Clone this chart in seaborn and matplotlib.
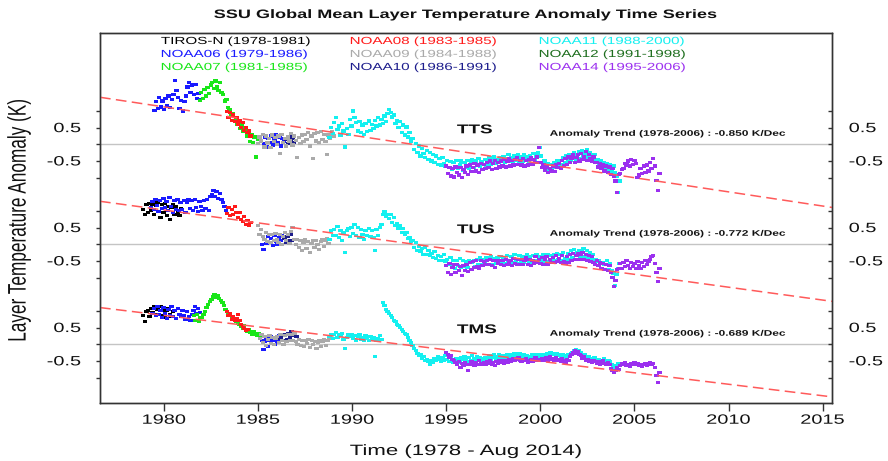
import numpy as np
import pandas as pd
import matplotlib
matplotlib.use("Agg")
import matplotlib.pyplot as plt
import seaborn as sns
from matplotlib.patheffects import AbstractPathEffect
from matplotlib.transforms import Affine2D
from matplotlib.path import Path
from matplotlib.markers import MarkerStyle

# ---------------------------------------------------------------- metadata
SATELLITES = ["TIROS-N", "NOAA06", "NOAA07", "NOAA08", "NOAA09",
              "NOAA10", "NOAA11", "NOAA12", "NOAA14"]
SAT_PERIODS = ["1978-1981", "1979-1986", "1981-1985", "1983-1985", "1984-1988",
               "1986-1991", "1988-2000", "1991-1998", "1995-2006"]
SAT_COLORS = ["#000000", "#1a1aff", "#19e619", "#ff1a1a", "#aaaaaa",
              "#1c1c8c", "#14f0f0", "#1e6e1e", "#9b30ef"]

LAYERS = ["TTS", "TUS", "TMS"]
TREND_K_PER_DEC = [-0.850, -0.772, -0.689]
TREND_ZERO_YEAR = [1993.2, 1993.3, 1992.55]

XTICK_YEARS = [1980, 1985, 1990, 1995, 2000, 2005, 2010, 2015]
YTICK_STEPS = [-1.0, -0.5, 0.0, 0.5, 1.0]
YTICK_TEXT = ["", "-0.5", "", "0.5", ""]

# ---------------------------------------------------------------- TTS (monthly anomalies, K)
TTS_N06A = [1.02, 1.28, 1.08, 1.40, 1.12, 1.30, 1.05, 1.38, 1.15, 1.45, 1.10, 1.35,
            1.50, 1.92, 1.62, 1.40, 1.08, 1.32, 1.00, 1.28, 1.45, 1.72, 1.85, 1.55,
            1.78, 1.50, 1.80, 1.38, 1.52, 1.35]
TTS_N07 = [1.32, 1.55, 1.38, 1.65, 1.45, 1.70, 1.52, 1.78, 1.85, 1.68, 1.90, 1.72,
           1.62, 1.85, 1.55, 1.50, 1.30, 1.35, 1.10, 1.05, 0.88, 0.92, 0.72, 0.78,
           0.60, 0.65, 0.48, 0.55, 0.38, 0.45, 0.25, 0.32, 0.08, 0.30, 0.05, 0.22,
           -0.38, 0.15]
TTS_N08 = [0.98, 0.80, 0.95, 0.72, 0.88, 0.68, 0.80, 0.60, 0.70, 0.50, 0.65, 0.42,
           0.50, 0.35, 0.40, 0.25]
TTS_N06B = [0.02, 0.22, -0.08, 0.18, 0.05, 0.25, -0.02, 0.15, 0.30, 0.05, 0.20, -0.05,
            0.18, 0.10]
TTS_N10 = [0.15, 0.02, 0.22, 0.08, 0.18, 0.05]
TTS_N09 = [0.02, 0.22, 0.10, 0.30, -0.08, 0.25, 0.05, 0.18, -0.10, 0.28, 0.08, 0.20,
           0.00, 0.25, -0.28, 0.30, 0.05, 0.18, -0.05, 0.22, 0.10, 0.32, -0.02, 0.25,
           0.12, -0.40, 0.20, 0.02, 0.28, 0.08, 0.30, 0.15, 0.35, -0.05, 0.25, -0.42,
           0.32, 0.10, 0.35, 0.05, 0.38, 0.15, 0.30, 0.08, -0.30, 0.28, 0.18, 0.38,
           0.25]
TTS_N11 = [0.20, 0.50, 0.32,
           0.65, 0.80, 0.45, 0.55, 0.28, 0.62, 0.40, -0.08, 0.48, 0.30, 0.75, 0.55,
           1.00, 0.80, 0.65, 0.40, 0.68, 0.35, 0.58, 0.30, 0.62, 0.38, 0.70, 0.42,
           0.60, 0.48, 0.72, 0.55, 0.80, 0.58, 0.75, 0.62, 0.85, 0.68, 0.92, 1.05,
           0.95, 0.82, 0.88, 0.62, 0.72, 0.50, 0.68, 0.35, 0.58, 0.28, 0.52, 0.22,
           0.35, 0.10, 0.18, -0.15, 0.02, -0.25, -0.05, -0.35, -0.12, -0.28, -0.40, -0.18,
           -0.45, -0.25, -0.50, -0.30, -0.55, -0.35, -0.60, -0.42, -0.62, -0.40, -0.58, -0.65,
           -0.48, -0.70, -0.52, -0.75, -0.55, -0.68, -0.48, -0.72, -0.60, -0.50, -0.78, -0.55,
           -0.70, -0.48, -0.72, -0.55, -0.45, -0.70, -0.50, -0.62, -0.42, -0.65, -0.52, -0.60,
           -0.45, -0.62, -0.50, -0.40, -0.60, -0.48, -0.38, -0.58, -0.45, -0.55, -0.40, -0.52,
           -0.38, -0.55, -0.42, -0.30, -0.52, -0.40, -0.55, -0.35, -0.48, -0.30, -0.50, -0.38,
           -0.52, -0.32, -0.48, -0.38, -0.55, -0.35, -0.45, -0.28, -0.50, -0.35, -0.25, -0.10,
           -0.35, -0.60, -0.50, -0.68, -0.58, -0.75, -0.60, -0.72, -0.55, -0.70, -0.50, -0.62,
           -0.48, -0.62, -0.40, -0.55, -0.35, -0.50, -0.30, -0.48, -0.32, -0.25, -0.45, -0.30,
           -0.22, -0.42, -0.20, -0.38, -0.30, -0.15, -0.40, -0.25, -0.35, -0.42, -0.30, -0.48,
           -0.45, -0.60, -0.50, -0.65, -0.55, -0.70, -0.58, -0.78, -0.60, -0.82, -0.65, -0.85,
           -0.95, -1.45, -1.10]
TTS_N14 = [-0.65, -0.88, -0.70, -0.95, -0.72, -0.98, -0.68, -0.85, -0.92, -0.70, -1.00, -0.75,
           -0.85, -0.65, -0.90, -0.62, -0.82, -0.70, -0.58, -0.80, -0.62, -0.85, -0.58, -0.75,
           -0.60, -0.72, -0.55, -0.70, -0.50, -0.75, -0.58, -0.48, -0.72, -0.55, -0.68, -0.50,
           -0.65, -0.45, -0.68, -0.50, -0.42, -0.65, -0.48, -0.62, -0.45, -0.40, -0.60, -0.48,
           -0.62, -0.42, -0.65, -0.48, -0.62, -0.45, -0.40, -0.60, -0.45, -0.55, -0.38, -0.10,
           -0.55, -0.70, -0.62, -0.78, -0.68, -0.85, -0.72, -0.80, -0.65, -0.82, -0.60, -0.70,
           -0.58, -0.72, -0.48, -0.65, -0.42, -0.60, -0.38, -0.55, -0.42, -0.32, -0.55, -0.40,
           -0.30, -0.50, -0.28, -0.45, -0.38, -0.22, -0.48, -0.30, -0.42, -0.50, -0.38, -0.55,
           -0.55, -0.68, -0.58, -0.72, -0.62, -0.80, -0.65, -0.85, -0.68, -0.90, -0.72, -0.95,
           -1.10, -1.45, -0.90, -0.88, -0.75, -0.72, -0.58, -0.62, -0.50, -0.65, -0.45, -0.60,
           -0.48, -0.58, -1.00, -0.92, -0.72, -0.88, -0.65, -0.85, -0.62, -0.80, -0.55, -0.72,
           -0.42, -0.65, -1.08, -1.40, -0.88]

# ---------------------------------------------------------------- TUS
TUS_TIROS = [1.05, 0.88, 1.18, 0.95, 1.22, 1.02, 1.20, 0.90, 1.15, 1.25, 0.98, 0.80,
             1.18, 0.95, 1.22, 0.85, 1.12, 0.75, 1.10, 1.20, 0.90, 1.12, 0.95, 0.85, 1.08]
TUS_N06A = [1.10, 1.28, 1.05, 1.35, 1.15, 0.98, 1.30, 1.08,
            1.38, 1.10, 1.28, 1.02, 1.40, 1.12, 0.95, 1.32, 1.05, 1.35, 1.00, 1.25,
            1.05, 1.32, 0.95, 1.25, 1.35, 1.08, 1.30, 1.00, 1.35, 1.10, 0.98, 1.28,
            1.12, 1.02, 1.32, 1.08, 1.35, 1.00, 1.42, 1.50, 1.60, 1.42, 1.58, 1.38,
            1.52, 1.35, 1.25, 1.12, 1.02]
TUS_N08 = [0.92, 1.10, 0.85, 1.05, 0.88, 1.12, 0.95, 0.80, 0.95, 0.75, 0.68, 0.82,
           0.60, 0.72, 0.55, 0.65]
TUS_N06B = [-0.02, -0.15, 0.15, 0.02, 0.22, 0.05, 0.18, -0.05, 0.25, 0.08, 0.00, 0.20,
            0.10, 0.25]
TUS_N10 = [0.18, 0.05, 0.22, 0.10, 0.28, 0.12]
TUS_N09 = [0.55, 0.30, 0.45, 0.22, 0.15, 0.35, 0.08, 0.30, 0.05, 0.28, 0.12, 0.32,
           0.15, 0.05, 0.30, -0.02, 0.22, 0.35, 0.10, 0.28, 0.02, 0.38, 0.50, 0.15,
           0.00, 0.15, -0.10, 0.12, -0.20, 0.05, 0.15, -0.12, 0.08, -0.25, 0.02, 0.12,
           -0.10, 0.12, -0.02, -0.15, 0.08, 0.15, -0.08, 0.10, 0.18, 0.02]
TUS_N11 = [0.15, 0.40, 0.25,
           0.45, 0.25, 0.52, 0.20, 0.42, 0.10, 0.35, -0.25, 0.40, 0.48, 0.22, 0.50,
           0.32, 0.58, 0.25, 0.50, 0.20, 0.45, 0.30, 0.15, 0.42, 0.25, 0.48, 0.22,
           0.40, 0.20, -0.20, 0.45, 0.25, 0.50, 0.60, 0.90, 0.98, 0.82, 0.88, 0.78,
           0.88, 0.65, 0.80, 0.55, 0.62, 0.48, 0.55, 0.35, 0.48, 0.28, 0.35, 0.18,
           0.20, 0.08, 0.12, -0.10, 0.05, -0.18, -0.08, -0.22, -0.12, -0.30, -0.10, -0.32,
           -0.18, -0.35, -0.28, -0.40, -0.22, -0.42, -0.35, -0.48, -0.38, -0.50, -0.32, -0.52,
           -0.45, -0.62, -0.40, -0.68, -0.50, -0.72, -0.48, -0.65, -0.42, -0.70, -0.50, -0.66,
           -0.52, -0.70, -0.48, -0.75, -0.55, -0.50, -0.68, -0.45, -0.62, -0.40, -0.60, -0.45,
           -0.58, -0.40, -0.62, -0.45, -0.38, -0.60, -0.42, -0.58, -0.40, -0.55, -0.38, -0.52,
           -0.40, -0.58, -0.35, -0.52, -0.60, -0.38, -0.55, -0.32, -0.50, -0.58, -0.35, -0.52,
           -0.38, -0.55, -0.40, -0.32, -0.52, -0.38, -0.58, -0.35, -0.50, -0.30, -0.52, -0.38,
           -0.50, -0.32, -0.55, -0.38, -0.30, -0.52, -0.35, -0.50, -0.32, -0.48, -0.28, -0.45,
           -0.30, -0.48, -0.25, -0.42, -0.50, -0.28, -0.45, -0.20, -0.40, -0.15, -0.35, -0.25,
           -0.18, -0.40, -0.22, -0.12, -0.38, -0.20, -0.42, -0.25, -0.45, -0.30, -0.50, -0.45,
           -0.52, -0.50, -0.58, -0.55, -0.62, -0.60, -0.50, -0.75, -0.58, -0.80, -0.88, -1.25,
           -0.92, -0.72, -0.58]
TUS_N14 = [-0.65, -0.85, -0.58, -0.90, -0.70, -0.62, -0.85, -0.60, -0.80, -0.68, -0.95, -0.65,
           -0.78, -0.60, -0.82, -0.55, -0.75, -0.52, -0.70, -0.50, -0.68, -0.72, -0.48, -0.65,
           -0.52, -0.62, -0.48, -0.60, -0.45, -0.65, -0.50, -0.70, -0.50, -0.58, -0.48, -0.60,
           -0.50, -0.65, -0.45, -0.62, -0.55, -0.48, -0.65, -0.42, -0.58, -0.62, -0.45, -0.60,
           -0.45, -0.62, -0.48, -0.40, -0.60, -0.45, -0.65, -0.48, -0.58, -0.38, -0.55, -0.45,
           -0.58, -0.40, -0.62, -0.45, -0.38, -0.60, -0.45, -0.55, -0.40, -0.55, -0.35, -0.52,
           -0.42, -0.55, -0.35, -0.52, -0.58, -0.38, -0.55, -0.30, -0.50, -0.28, -0.45, -0.35,
           -0.28, -0.45, -0.30, -0.25, -0.45, -0.32, -0.50, -0.35, -0.52, -0.38, -0.55, -0.60,
           -0.50, -0.65, -0.55, -0.72, -0.58, -0.75, -0.62, -0.80, -0.65, -0.85, -1.00, -1.28,
           -1.08, -0.75, -0.72, -0.58, -0.72, -0.55, -0.68, -0.50, -0.65, -0.72, -0.55, -0.68,
           -0.58, -0.72, -0.52, -0.65, -0.72, -0.55, -0.68, -0.48, -0.62, -0.52, -0.45, -0.38,
           -0.35, -0.58, -0.85, -1.12, -0.72]

# ---------------------------------------------------------------- TMS
TMS_TIROS = [0.85, 0.68, 0.98, 1.02, 0.82, 1.08, 0.95, 1.12, 0.88, 1.05, 0.90, 1.12,
             0.86, 1.02, 0.80, 1.00, 1.08, 0.88, 0.82, 0.98]
TMS_N06A = [0.92, 1.08, 0.85, 1.12, 0.88, 1.02, 0.80, 1.10, 0.92, 0.78, 1.05, 0.86,
            1.12, 0.84, 1.00, 0.78, 1.08, 0.88, 0.82, 1.02, 0.86, 0.75, 0.98, 0.82,
            0.70, 0.90, 1.02, 1.12, 0.92, 1.08, 0.95]
TMS_N07 = [0.85, 0.72, 0.90, 0.68, 0.80,
           0.80, 0.88, 0.98, 1.10, 1.20, 1.28, 1.35, 1.42, 1.48, 1.40, 1.45, 1.38,
           1.30, 1.25, 1.15, 1.05, 0.98, 0.92, 0.88, 0.82, 0.78, 0.72, 0.68, 0.62,
           0.58, 0.52, 0.48, 0.55, 0.42, 0.38, 0.45, 0.35, 0.28, 0.38, 0.30, 0.25,
           0.32, 0.20]
TMS_N08 = [0.98, 0.85, 0.92, 0.75, 0.82, 0.70, 0.78, 0.88, 0.72, 0.60, 0.52, 0.48,
           0.42, 0.45]
TMS_N06B = [0.10, -0.15, 0.08, 0.18, -0.08, 0.10, 0.22, 0.12, 0.00, 0.20, 0.08, 0.25]
TMS_N10 = [0.18, 0.25, 0.10, 0.28, 0.15, 0.32, 0.20, 0.38, 0.26, 0.34, 0.22]
TMS_N09 = [0.18, 0.28, 0.05, 0.22, -0.05, 0.15, 0.25, 0.02, 0.20, 0.00, 0.18,
           0.22, 0.05, 0.28, 0.10, 0.00, 0.25, 0.08, 0.30, 0.12, 0.28, 0.10, 0.32,
           0.08, 0.00, 0.15, -0.05, 0.10, -0.08, 0.12, 0.02, 0.15, -0.10, 0.10, -0.02,
           0.08, -0.12, 0.05, 0.12, -0.08, 0.08, 0.15, -0.03, 0.10, 0.18]
TMS_N11 = [0.22, 0.30, 0.18,
           0.28, 0.35, 0.20, 0.30, 0.25, 0.32, 0.15, -0.12, 0.20, 0.28, 0.22, 0.30,
           0.18, 0.25, 0.12, 0.22, 0.30, 0.15, 0.20, 0.10, 0.25, 0.18, 0.12, 0.22,
           0.15, 0.20, -0.38, 0.10, 0.18, 0.25, 0.15, 1.25, 1.15, 1.05, 0.98, 0.92,
           0.85, 0.80, 0.72, 0.68, 0.60, 0.55, 0.50, 0.45, 0.38, 0.32, 0.28, 0.20,
           0.12, 0.05, -0.05, -0.12, -0.20, -0.28, -0.35, -0.30, -0.42, -0.38, -0.50, -0.45,
           -0.52, -0.60, -0.48, -0.55, -0.42, -0.50, -0.38, -0.45, -0.52, -0.40, -0.48, -0.35,
           -0.45, -0.52, -0.40, -0.48, -0.55, -0.50, -0.42, -0.55, -0.48, -0.40, -0.45, -0.38,
           -0.45, -0.52, -0.40, -0.48, -0.35, -0.42, -0.50, -0.38, -0.45, -0.40, -0.48, -0.42,
           -0.40, -0.48, -0.42, -0.35, -0.45, -0.40, -0.32, -0.42, -0.38, -0.30, -0.40, -0.35,
           -0.35, -0.42, -0.30, -0.38, -0.32, -0.40, -0.35, -0.28, -0.38, -0.32, -0.28, -0.35,
           -0.38, -0.32, -0.40, -0.35, -0.42, -0.38, -0.32, -0.40, -0.35, -0.30, -0.38, -0.32,
           -0.35, -0.30, -0.38, -0.32, -0.28, -0.35, -0.25, -0.30, -0.28, -0.32, -0.28, -0.35,
           -0.32, -0.38, -0.30, -0.35, -0.40, -0.32, -0.38, -0.28, -0.25, -0.20, -0.15, -0.22,
           -0.18, -0.25, -0.30, -0.35, -0.32, -0.40, -0.38, -0.45, -0.42, -0.48, -0.40, -0.45,
           -0.50, -0.45, -0.52, -0.48, -0.42, -0.50, -0.55, -0.48, -0.52, -0.60, -0.68, -0.72,
           -0.65, -0.58, -0.62]
TMS_N14 = [-0.25, -0.32, -0.40, -0.35, -0.45, -0.50, -0.55, -0.62, -0.52, -0.70, -0.58, -0.65,
           -0.55, -0.62, -0.78, -0.60, -0.52, -0.58, -0.65, -0.55, -0.62, -0.50, -0.58, -0.60,
           -0.55, -0.62, -0.52, -0.58, -0.50, -0.60, -0.55, -0.65, -0.52, -0.58, -0.48, -0.55,
           -0.50, -0.58, -0.48, -0.55, -0.45, -0.52, -0.48, -0.42, -0.50, -0.45, -0.40, -0.48,
           -0.52, -0.45, -0.50, -0.42, -0.55, -0.48, -0.45, -0.52, -0.48, -0.40, -0.50, -0.45,
           -0.48, -0.42, -0.50, -0.45, -0.40, -0.48, -0.38, -0.45, -0.42, -0.48, -0.40, -0.50,
           -0.45, -0.52, -0.42, -0.48, -0.55, -0.45, -0.50, -0.38, -0.32, -0.25, -0.18, -0.28,
           -0.22, -0.30, -0.35, -0.42, -0.38, -0.48, -0.45, -0.52, -0.50, -0.55, -0.48, -0.52,
           -0.58, -0.52, -0.60, -0.55, -0.50, -0.58, -0.62, -0.55, -0.60, -0.72, -0.80, -0.85,
           -0.78, -0.70, -0.75, -0.65, -0.58, -0.62, -0.55, -0.65, -0.60, -0.68, -0.58, -0.62,
           -0.55, -0.62, -0.58, -0.65, -0.60, -0.68, -0.62, -0.58, -0.65, -0.60, -0.55, -0.62,
           -0.58, -0.70, -0.95, -1.15, -0.85]

# (satellite, first month as decimal year, monthly values), in drawing order
SEGMENTS = {
    "TTS": [("NOAA06", 1979.5, TTS_N06A), ("NOAA07", 1981.9, TTS_N07),
            ("NOAA08", 1983.35, TTS_N08), ("NOAA06", 1985.3, TTS_N06B),
            ("NOAA10", 1986.5, TTS_N10), ("NOAA09", 1985.0, TTS_N09),
            ("NOAA11", 1988.8, TTS_N11), ("NOAA14", 1995.0, TTS_N14)],
    "TUS": [("TIROS-N", 1978.9, TUS_TIROS), ("NOAA06", 1979.3, TUS_N06A),
            ("NOAA08", 1983.35, TUS_N08), ("NOAA06", 1985.2, TUS_N06B),
            ("NOAA10", 1986.4, TUS_N10), ("NOAA09", 1985.0, TUS_N09),
            ("NOAA11", 1988.8, TUS_N11), ("NOAA14", 1995.0, TUS_N14)],
    "TMS": [("TIROS-N", 1978.9, TMS_TIROS), ("NOAA06", 1979.4, TMS_N06A),
            ("NOAA07", 1981.6, TMS_N07), ("NOAA08", 1983.35, TMS_N08),
            ("NOAA06", 1985.2, TMS_N06B), ("NOAA10", 1986.2, TMS_N10),
            ("NOAA09", 1985.1, TMS_N09), ("NOAA11", 1988.8, TMS_N11),
            ("NOAA14", 1995.0, TMS_N14)],
}

# ---------------------------------------------------------------- layout / style
LAYER_OFFSET = {"TTS": 6.0, "TUS": 3.0, "TMS": 0.0}   # vertical stacking of panels (K)
XLIM = (1976.6, 2015.5)
YLIM = (-1.75, 9.34)
WIDEN = 1.48          # horizontal stretch applied to all lettering


class Widen(AbstractPathEffect):
    """Stretch a text path horizontally around its left / centre / right."""

    def __init__(self, factor=WIDEN, anchor=0.5):
        super().__init__()
        self.factor = factor
        self.anchor = anchor

    def draw_path(self, renderer, gc, tpath, affine, rgbFace=None):
        pts = tpath.vertices
        if tpath.codes is not None:
            pts = pts[tpath.codes != Path.CLOSEPOLY]
        if len(pts) == 0:
            renderer.draw_path(gc, tpath, affine, rgbFace)
            return
        xs = affine.transform(pts)[:, 0]
        cx = xs.min() + (xs.max() - xs.min()) * self.anchor
        stretch = Affine2D().translate(-cx, 0).scale(self.factor, 1.0).translate(cx, 0)
        renderer.draw_path(gc, tpath, affine + stretch, rgbFace)


sns.set_style("ticks")
plt.rcParams["font.family"] = ["Liberation Sans", "DejaVu Sans"]
plt.rcParams["axes.unicode_minus"] = False

# ---------------------------------------------------------------- tidy table
frames = []
for layer in LAYERS:
    for sat, start, vals in SEGMENTS[layer]:
        vals = np.asarray(vals, dtype=float)
        frames.append(pd.DataFrame({
            "year": start + np.arange(len(vals)) / 12.0,
            "anomaly": vals,
            "layer": layer,
            "satellite": sat,
        }))
df = pd.concat(frames, ignore_index=True)
df["stacked"] = df["anomaly"] + df["layer"].map(LAYER_OFFSET)
palette = dict(zip(SATELLITES, SAT_COLORS))

# ---------------------------------------------------------------- figure
fig = plt.figure(figsize=(8.88, 4.61), dpi=100)
ax = fig.add_axes([100 / 888, 58.5 / 461, 732 / 888, 369.5 / 461])
ax.set_xlim(*XLIM)
ax.set_ylim(*YLIM)

for layer in LAYERS:
    ax.axhline(LAYER_OFFSET[layer], color="#c4c4c4", lw=1.0, zorder=1)

dot = MarkerStyle(Path([(-1.4, -1), (1.4, -1), (1.4, 1), (-1.4, 1), (-1.4, -1)],
                       [Path.MOVETO, Path.LINETO, Path.LINETO, Path.LINETO, Path.CLOSEPOLY]))
sns.scatterplot(data=df, x="year", y="stacked", hue="satellite", palette=palette,
                legend=False, marker=dot, s=10, linewidth=0, edgecolor="none",
                ax=ax, zorder=3)

# linear trend lines (slope in K per decade)
xs = np.array(XLIM)
for layer, trend, x0 in zip(LAYERS, TREND_K_PER_DEC, TREND_ZERO_YEAR):
    ys = trend / 10.0 * (xs - x0) + LAYER_OFFSET[layer]
    ax.plot(xs, ys, color="#ff5a5a", lw=1.1, dashes=(7, 3.5), zorder=4)
    ax.text(1995.57, LAYER_OFFSET[layer] + 0.42, layer, fontsize=9.2,
            fontweight="bold", ha="left", va="center", color="#111111", zorder=5,
            path_effects=[Widen(anchor=0.0)])
    ax.text(2000.5, LAYER_OFFSET[layer] + 0.30,
            f"Anomaly Trend (1978-2006) : {trend:.3f} K/Dec", fontsize=5.8,
            fontweight="bold", ha="left", va="center", color="#111111", zorder=5,
            path_effects=[Widen(anchor=0.0)])

# ---------------------------------------------------------------- axes decoration
ytick_pos, ytick_lab = [], []
for layer in LAYERS[::-1]:
    for step, lab in zip(YTICK_STEPS, YTICK_TEXT):
        ytick_pos.append(LAYER_OFFSET[layer] + step)
        ytick_lab.append(lab)

ax.set_xticks(XTICK_YEARS, [str(y) for y in XTICK_YEARS])
ax.set_yticks(ytick_pos, ytick_lab)
ax.tick_params(axis="x", direction="out", length=5.8, width=1.0, pad=3.0,
               labelsize=9.7, color="#333333", labelcolor="#111111")
ax.tick_params(axis="y", direction="out", length=2.9, width=1.0, pad=10.8,
               labelsize=9.7, color="#333333", labelcolor="#111111")

ax2 = ax.twinx()
ax2.set_ylim(*YLIM)
ax2.set_yticks(ytick_pos, ytick_lab)
ax2.tick_params(axis="y", direction="in", length=2.9, width=1.0, pad=12.2,
                labelsize=9.7, color="#333333", labelcolor="#111111")

for a in (ax, ax2):
    for sp in a.spines.values():
        sp.set_visible(True)
        sp.set_color("#333333")
        sp.set_linewidth(1.0)

for t in ax.xaxis.get_major_ticks():
    t.label1.set_path_effects([Widen(anchor=0.5)])
for t in ax.yaxis.get_major_ticks():
    t.label1.set_path_effects([Widen(anchor=1.0)])
for t in ax2.yaxis.get_major_ticks():
    t.label2.set_path_effects([Widen(anchor=0.0)])

ax.set_xlabel("Time (1978 - Aug 2014)", fontsize=10.8, color="#111111")
ax.xaxis.label.set_va("center")
ax.xaxis.set_label_coords(0.5, -0.1313)
ax.xaxis.label.set_path_effects([Widen(anchor=0.5)])

ax.set_ylabel("Layer Temperature Anomaly (K)", fontsize=12.4, color="#111111")
ax.yaxis.label.set_va("center")
ax.yaxis.set_label_coords(-0.1107, 0.494)
ax.yaxis.label.set_path_effects([Widen(anchor=0.5)])

fig.text(466 / 888, 1 - 15 / 461, "SSU Global Mean Layer Temperature Anomaly Time Series",
         ha="center", va="center", fontsize=8.8, fontweight="bold", color="#111111",
         path_effects=[Widen(anchor=0.5)])

# satellite key: three columns of coloured text
col_x = [161, 350, 539]
row_y = [41, 54, 67]
for i, (sat, per, col) in enumerate(zip(SATELLITES, SAT_PERIODS, SAT_COLORS)):
    fig.text(col_x[i // 3] / 888, 1 - row_y[i % 3] / 461, f"{sat} ({per})",
             ha="left", va="center", fontsize=7.4, color=col,
             path_effects=[Widen(anchor=0.0)])

fig.savefig("out.png", dpi=100)
